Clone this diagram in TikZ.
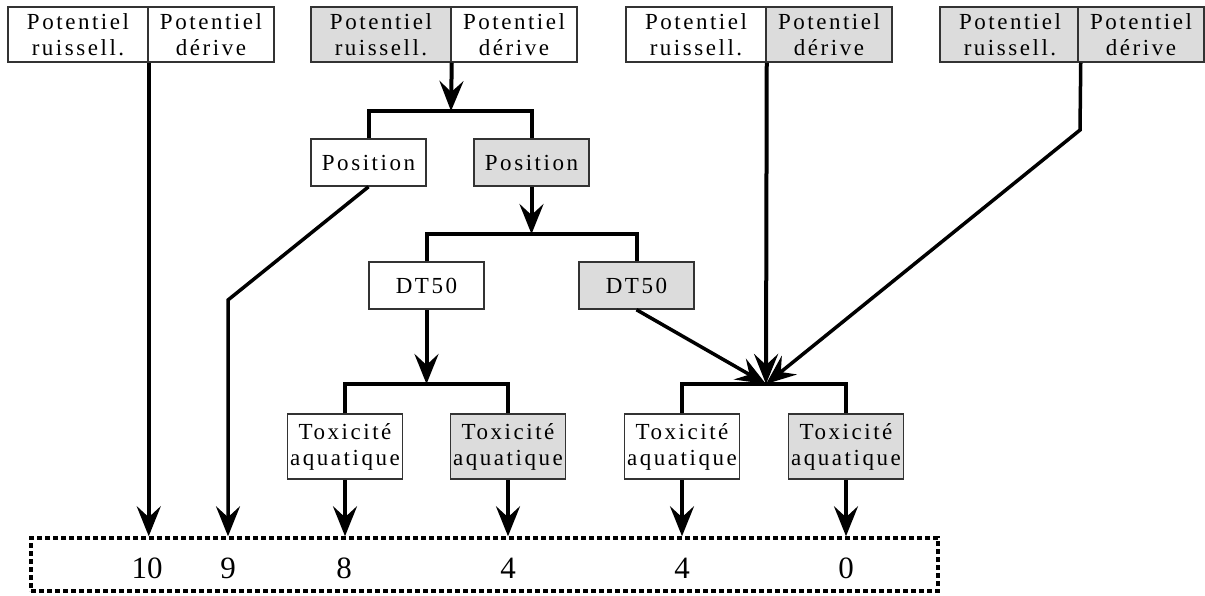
\documentclass[tikz,border=0pt]{standalone}
\usepackage{fontspec}
\setmainfont{Liberation Serif}
\newfontfamily\boxfont[LetterSpace=11]{Liberation Serif}
\usetikzlibrary{arrows.meta}
\definecolor{boxgray}{HTML}{DCDCDC}
\definecolor{edgegray}{HTML}{333333}
\tikzset{
  bx/.style={draw=edgegray, line width=1.5pt, inner sep=0pt, align=center,
    font={\boxfont\fontsize{23}{26}\selectfont}},
  wbox/.style={bx, fill=white},
  gbox/.style={bx, fill=boxgray},
  topL/.style={minimum width=140pt, minimum height=55pt},
  topR/.style={minimum width=126pt, minimum height=55pt},
  midbox/.style={minimum width=115pt, minimum height=47pt},
  toxbox/.style={minimum width=115pt, minimum height=65pt},
  link/.style={line width=4pt, line join=miter},
  arr/.style={link, -{Stealth[length=30pt, width=24pt, inset=11pt]}},
  num/.style={font={\fontsize{31}{34}\selectfont}, inner sep=0pt},
}
\begin{document}
\begin{tikzpicture}[x=1pt, y=-1pt]
\useasboundingbox (0,0) rectangle (1205,595);

% result box
\node[draw, line width=3.5pt, dash pattern=on 5pt off 3pt, minimum width=907pt, minimum height=53pt, inner sep=0pt] (res) at (484.5,564.5) {};

% top pairs
\node[wbox, topL] (a1) at (78,34.5) {Potentiel\\ruissell.};
\node[wbox, topR] (b1) at (211,34.5) {Potentiel\\dérive};
\node[gbox, topL] (a2) at (381,34.5) {Potentiel\\ruissell.};
\node[wbox, topR] (b2) at (514,34.5) {Potentiel\\dérive};
\node[wbox, topL] (a3) at (696,34.5) {Potentiel\\ruissell.};
\node[gbox, topR] (b3) at (829,34.5) {Potentiel\\dérive};
\node[gbox, topL] (a4) at (1010,34.5) {Potentiel\\ruissell.};
\node[gbox, topR] (b4) at (1141,34.5) {Potentiel\\dérive};

% position
\node[wbox, midbox] (pw) at (368.5,162.5) {Position};
\node[gbox, midbox] (pg) at (531.5,162.5) {Position};
% DT50
\node[wbox, midbox] (dw) at (426.5,285.5) {DT50};
\node[gbox, midbox] (dg) at (636.5,285.5) {DT50};
% toxicity
\node[wbox, toxbox] (tw1) at (345,446.5) {Toxicité\\aquatique};
\node[gbox, toxbox] (tg1) at (508,446.5) {Toxicité\\aquatique};
\node[wbox, toxbox] (tw2) at (682,446.5) {Toxicité\\aquatique};
\node[gbox, toxbox] (tg2) at (846,446.5) {Toxicité\\aquatique};

% numbers
\node[num] (n1) at (147,568) {10};
\node[num] (n2) at (228,568) {9};
\node[num] (n3) at (344,568) {8};
\node[num] (n4) at (508,568) {4};
\node[num] (n5) at (682,568) {4};
\node[num] (n6) at (846,568) {0};

% junctions
\coordinate (j1) at (451,111);
\coordinate (j2) at (531.5,234);
\coordinate (j3) at (426.5,384);
\coordinate (j4) at (766,384);
\coordinate (k1) at (228,300);
\coordinate (k4) at (1080,130);

% connectors
\draw[arr] (a1.south east) -- (a1.south east |- res.north);
\draw[arr] (a2.south east) -- (j1);
\draw[link] (pw.north) |- (j1) -| (pg.north);
\draw[arr, line width=3.5pt] (pw.south) -- (k1) -- (k1 |- res.north);
\draw[arr] (pg.south) -- (j2);
\draw[link] (dw.north) |- (j2) -| (dg.north);
\draw[arr] (dw.south) -- (j3);
\draw[link] (tw1.north) |- (j3) -| (tg1.north);
\draw[arr, line width=3.5pt] (dg.south) -- (j4);
\draw[arr] (a3.south east) -- (j4);
\draw[arr, line width=3.5pt] (a4.south east) -- (k4) -- (j4);
\draw[link] (tw2.north) |- (j4) -| (tg2.north);
\draw[arr] (tw1.south) -- (tw1.south |- res.north);
\draw[arr] (tg1.south) -- (tg1.south |- res.north);
\draw[arr] (tw2.south) -- (tw2.south |- res.north);
\draw[arr] (tg2.south) -- (tg2.south |- res.north);
\end{tikzpicture}
\end{document}
